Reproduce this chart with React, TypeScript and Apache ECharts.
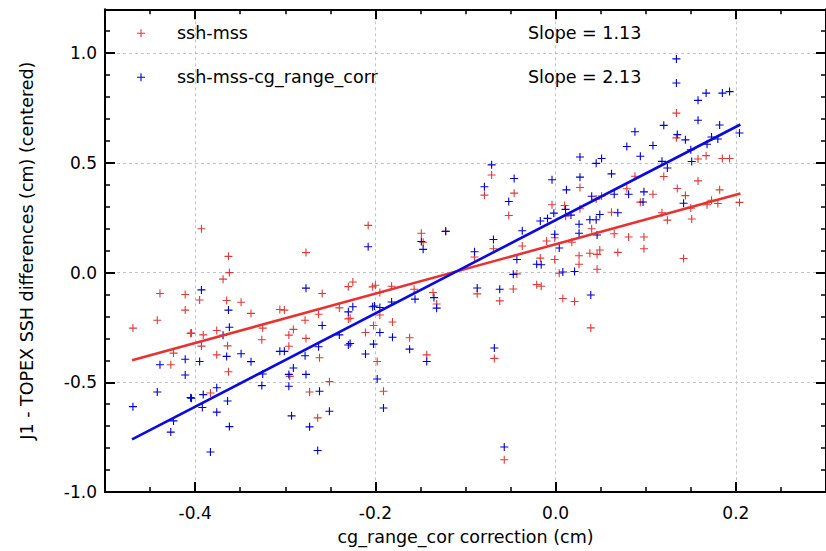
import React, { useEffect, useRef } from "react";
import * as echarts from "echarts";

// ---- data ----
const redX = [-0.393,-0.363,-0.362,-0.369,-0.439,-0.411,-0.395,-0.365,-0.411,-0.442,-0.469,-0.405,-0.404,-0.391,-0.376,-0.364,-0.393,-0.424,-0.427,-0.376,-0.363,-0.383,
  -0.277,-0.259,-0.349,-0.338,-0.306,-0.301,-0.278,-0.263,-0.325,-0.291,-0.296,-0.326,-0.277,-0.296,-0.262,-0.295,-0.273,-0.251,-0.264,
  -0.208,-0.149,-0.147,-0.230,-0.225,-0.203,-0.200,-0.195,-0.182,-0.240,-0.230,-0.228,-0.195,-0.202,-0.211,-0.181,-0.157,-0.136,-0.132,-0.162,-0.143,-0.198,-0.191,
  -0.071,-0.079,-0.046,-0.052,-0.122,-0.090,-0.069,-0.037,-0.043,-0.017,-0.087,-0.062,-0.047,-0.021,-0.016,-0.068,-0.057,
  0.088,0.027,0.079,0.045,0.051,0.094,-0.004,0.010,0.027,0.062,0.011,0.040,0.065,-0.001,-0.010,0.018,0.081,0.098,0.098,0.069,0.038,0.046,0.049,0.026,-0.001,0.026,0.004,0.046,0.008,0.021,0.039,
  0.134,0.134,0.120,0.158,0.167,0.185,0.193,0.158,0.108,0.135,0.144,0.182,0.118,0.150,0.168,0.173,0.180,0.204,0.124,0.151,0.142];
const redY = [0.200,0.074,0.000,-0.030,-0.095,-0.100,-0.125,-0.127,-0.171,-0.217,-0.253,-0.277,-0.275,-0.284,-0.264,-0.334,-0.335,-0.367,-0.420,-0.375,-0.452,-0.549,
  0.091,-0.095,-0.135,-0.186,-0.168,-0.171,-0.217,-0.190,-0.253,-0.259,-0.285,-0.306,-0.300,-0.336,-0.388,-0.473,-0.544,-0.497,-0.662,
  0.215,0.179,0.138,-0.064,-0.043,-0.065,-0.058,-0.091,-0.062,-0.161,-0.211,-0.208,-0.193,-0.241,-0.273,-0.225,-0.076,-0.091,-0.143,-0.297,-0.375,-0.405,-0.541,
  0.445,0.353,0.362,0.260,0.188,0.071,0.109,0.121,-0.006,0.066,-0.097,-0.129,-0.075,-0.055,-0.062,-0.391,-0.853,
  0.439,0.388,0.382,0.335,0.349,0.321,0.309,0.306,0.291,0.275,0.257,0.200,0.177,0.159,0.144,0.138,0.162,0.162,0.109,0.092,0.088,0.083,0.103,0.077,0.060,0.038,-0.003,0.015,-0.118,-0.132,-0.252,
  0.727,0.614,0.438,0.518,0.533,0.520,0.520,0.418,0.357,0.383,0.351,0.377,0.273,0.294,0.309,0.330,0.315,0.320,0.239,0.244,0.064];

const blueX = [-0.393,-0.363,-0.362,-0.369,-0.439,-0.411,-0.395,-0.365,-0.411,-0.442,-0.469,-0.405,-0.404,-0.391,-0.376,-0.364,-0.392,-0.424,-0.427,-0.376,-0.362,-0.383,
  -0.277,-0.259,-0.349,-0.338,-0.306,-0.301,-0.278,-0.263,-0.325,-0.291,-0.296,-0.326,-0.277,-0.296,-0.262,-0.293,-0.273,-0.251,-0.264,
  -0.208,-0.149,-0.147,-0.230,-0.225,-0.203,-0.201,-0.195,-0.182,-0.240,-0.230,-0.228,-0.195,-0.202,-0.211,-0.181,-0.156,-0.135,-0.132,-0.162,-0.143,-0.198,-0.191,
  -0.071,-0.079,-0.046,-0.052,-0.122,-0.090,-0.069,-0.037,-0.043,-0.017,-0.087,-0.062,-0.047,-0.021,-0.016,-0.068,-0.057,
  0.088,0.079,0.094,0.027,0.045,0.051,0.062,0.027,-0.004,0.012,0.040,0.065,0.081,0.098,0.011,-0.002,0.017,0.049,0.069,-0.009,0.026,0.038,0.045,0.026,-0.001,0.046,0.004,0.008,0.021,0.039,0.097,
  0.134,0.134,0.167,0.185,0.193,0.158,0.158,0.120,0.182,0.135,0.144,0.173,0.180,0.108,0.168,0.204,0.150,0.118,0.151,0.124,0.142];
const blueY = [-0.079,-0.171,-0.249,-0.286,-0.420,-0.395,-0.405,-0.382,-0.467,-0.544,-0.611,-0.570,-0.573,-0.556,-0.525,-0.585,-0.615,-0.676,-0.727,-0.636,-0.702,-0.818,
  -0.071,-0.241,-0.370,-0.406,-0.359,-0.359,-0.379,-0.338,-0.462,-0.435,-0.464,-0.515,-0.464,-0.518,-0.541,-0.653,-0.703,-0.632,-0.811,
  0.118,0.142,0.106,-0.179,-0.156,-0.156,-0.152,-0.159,-0.134,-0.284,-0.330,-0.323,-0.273,-0.326,-0.371,-0.295,-0.121,-0.114,-0.162,-0.349,-0.405,-0.485,-0.617,
  0.491,0.391,0.429,0.324,0.188,0.095,0.151,0.191,0.060,0.235,-0.070,-0.076,-0.008,0.038,0.036,-0.344,-0.795,
  0.642,0.575,0.530,0.527,0.498,0.520,0.450,0.435,0.423,0.377,0.348,0.357,0.357,0.368,0.288,0.271,0.262,0.265,0.273,0.247,0.220,0.241,0.241,0.179,0.175,0.171,0.112,0.003,0.005,-0.102,0.322,
  0.974,0.864,0.818,0.818,0.825,0.785,0.694,0.671,0.673,0.629,0.605,0.618,0.609,0.579,0.585,0.636,0.560,0.507,0.506,0.477,0.316];

// fitted lines (end points)
const fitX = [-0.47, 0.205];
const fitRedY = [-0.40, 0.36];
const fitBlueY = [-0.76, 0.675];

const seriesNames = ["ssh-mss", "ssh-mss-cg_range_corr"];
const slopeLabels = ["Slope = 1.13", "Slope = 2.13"];
const xTickValues = [-0.4, -0.2, 0.0, 0.2];

const RED = "#dd3a3a";
const BLUE = "#0000cc";
const FONT = "DejaVu Sans";
const PLUS = "path://M3.45,0H4.55V3.45H8V4.55H4.55V8H3.45V4.55H0V3.45H3.45Z";

const zip = (xs: number[], ys: number[]) => xs.map((x, i) => [x, ys[i]]);

export default function App() {
  const ref = useRef<HTMLDivElement>(null);
  useEffect(() => {
    if (!ref.current) return;
    const chart = echarts.init(ref.current, undefined, { renderer: "svg" });
    const T = "rgba(0,0,0,0)";
    const G = "#c4c4c4";
    const grid = { left: 105, top: 9.3, width: 729, height: 484 };
    const common = { min: -0.5, max: 0.3, type: "value" as const };
    const ycommon = { min: -1, max: 1.2, type: "value" as const };
    const axisLineStyle = { show: true, lineStyle: { color: "#000", width: 2 } };
    chart.setOption({
      animation: false,
      backgroundColor: "#fff",
      grid,
      legend: {
        data: seriesNames,
        orient: "vertical",
        left: 132,
        top: 18.3,
        itemWidth: 8,
        itemHeight: 8,
        itemGap: 24,
        textStyle: { fontFamily: FONT, fontSize: 17.5, color: "#000", lineHeight: 20, padding: [0, 0, 0, 27] },
      },
      graphic: slopeLabels.map((t, i) => ({
        type: "text",
        left: 528,
        top: 33.3 + i * 44 - 10,
        style: { text: t, font: `17.5px "${FONT}"`, fill: "#000", lineHeight: 20 },
        silent: true,
      })),
      xAxis: [
        {
          ...common,
          position: "bottom",
          axisLine: { ...axisLineStyle, onZero: false },
          axisTick: { show: true, inside: true, length: 10, lineStyle: { color: "#000", width: 2 }, customValues: xTickValues },
          axisLabel: {
            customValues: xTickValues,
            formatter: (v: number) => v.toFixed(1),
            fontFamily: FONT, fontSize: 17, color: "#000", margin: 12,
          },
          splitLine: { show: false },
          name: "cg_range_cor correction (cm)",
          nameLocation: "middle",
          nameGap: 36,
          nameTextStyle: { fontFamily: FONT, fontSize: 17.5, color: "#000" },
        },
        {
          ...common,
          interval: 0.05,
          position: "bottom",
          axisLine: { show: false, onZero: false },
          axisTick: { show: true, inside: true, length: 5, lineStyle: { color: "#000", width: 1.5 } },
          axisLabel: { show: false },
          splitLine: { show: true, lineStyle: { color: [T, T, G, T], type: [3, 3], width: 1 } },
        },
        {
          ...common,
          position: "top",
          axisLine: { ...axisLineStyle, onZero: false },
          axisTick: { show: true, inside: true, length: 10, lineStyle: { color: "#000", width: 2 }, customValues: xTickValues },
          axisLabel: { show: false },
          splitLine: { show: false },
        },
        {
          ...common,
          interval: 0.05,
          position: "top",
          axisLine: { show: false, onZero: false },
          axisTick: { show: true, inside: true, length: 5, lineStyle: { color: "#000", width: 1.5 } },
          axisLabel: { show: false },
          splitLine: { show: false },
        },
      ],
      yAxis: [
        {
          ...ycommon,
          interval: 0.5,
          position: "left",
          axisLine: { ...axisLineStyle, onZero: false },
          axisTick: { show: true, inside: true, length: 10, lineStyle: { color: "#000", width: 2 } },
          axisLabel: {
            formatter: (v: number) => (v > 1.1 ? "" : v.toFixed(1)),
            fontFamily: FONT, fontSize: 17, color: "#000", margin: 8,
          },
          splitLine: { show: false },
          name: "J1 - TOPEX SSH differences (cm) (centered)",
          nameLocation: "middle",
          nameGap: 69,
          nameTextStyle: { fontFamily: FONT, fontSize: 17.5, color: "#000" },
        },
        {
          ...ycommon,
          interval: 0.1,
          position: "left",
          axisLine: { show: false, onZero: false },
          axisTick: { show: true, inside: true, length: 5, lineStyle: { color: "#000", width: 1.5 } },
          axisLabel: { show: false },
          splitLine: { show: true, lineStyle: { color: [G, T, T, T, T], type: [3, 3], width: 1 } },
        },
        {
          ...ycommon,
          interval: 0.5,
          position: "right",
          axisLine: { ...axisLineStyle, onZero: false },
          axisTick: { show: true, inside: true, length: 10, lineStyle: { color: "#000", width: 2 } },
          axisLabel: { show: false },
          splitLine: { show: false },
        },
        {
          ...ycommon,
          interval: 0.1,
          position: "right",
          axisLine: { show: false, onZero: false },
          axisTick: { show: true, inside: true, length: 5, lineStyle: { color: "#000", width: 1.5 } },
          axisLabel: { show: false },
          splitLine: { show: false },
        },
      ],
      series: [
        {
          name: seriesNames[0],
          type: "scatter",
          symbol: PLUS,
          symbolSize: 8,
          itemStyle: { color: RED, opacity: 1 },
          data: zip(redX, redY),
          z: 2,
        },
        {
          name: seriesNames[1],
          type: "scatter",
          symbol: PLUS,
          symbolSize: 8,
          itemStyle: { color: BLUE, opacity: 1 },
          data: zip(blueX, blueY),
          z: 2,
        },
        {
          name: "fit-red",
          type: "line",
          data: zip(fitX, fitRedY),
          symbol: "none",
          lineStyle: { color: "#e83232", width: 2.6 },
          z: 3,
        },
        {
          name: "fit-blue",
          type: "line",
          data: zip(fitX, fitBlueY),
          symbol: "none",
          lineStyle: { color: "#0a0ae0", width: 2.6 },
          z: 3,
        },
      ],
    });
    return () => chart.dispose();
  }, []);
  return (
    <div
      ref={ref}
      style={{ position: "fixed", left: 0, top: 0, width: 826, height: 551, background: "#fff" }}
    />
  );
}
